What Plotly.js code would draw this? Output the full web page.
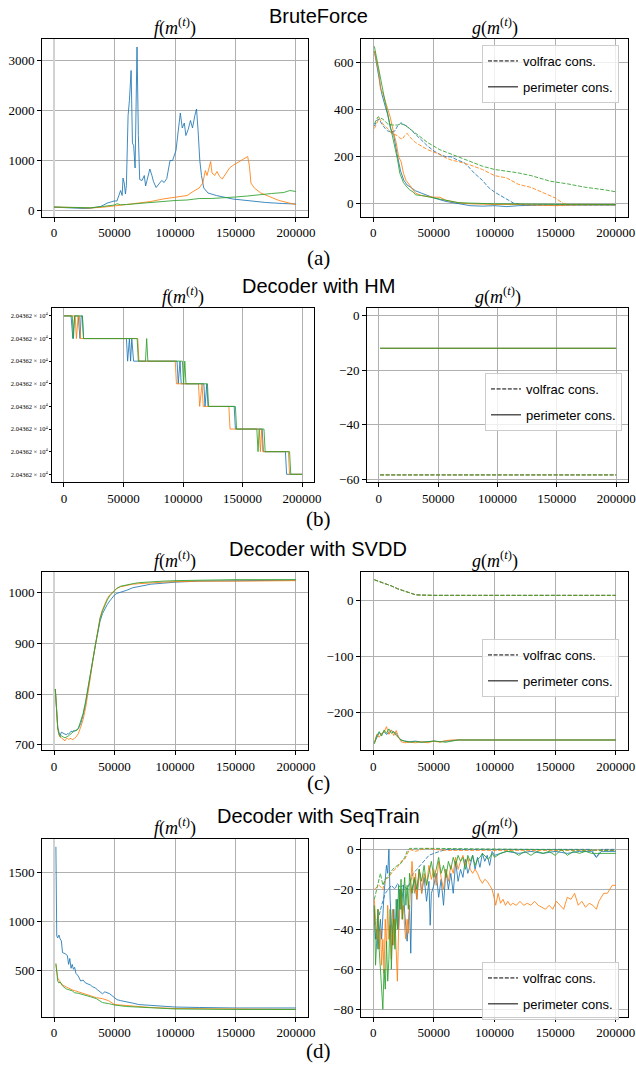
<!DOCTYPE html>
<html><head><meta charset="utf-8">
<script src="https://cdn.plot.ly/plotly-3.0.1.min.js"></script>
<style>html,body{margin:0;padding:0;background:#fff}#plot{width:636px;height:1069px}</style>
</head><body><div id="plot"></div>
<script>
// ---------- DATA ----------
const sectionTitles = ["BruteForce", "Decoder with HM", "Decoder with SVDD", "Decoder with SeqTrain"];
const captions = ["(a)", "(b)", "(c)", "(d)"];
const legendNames = ["volfrac cons.", "perimeter cons."];
const xTicks = [0, 50000, 100000, 150000, 200000];

// (a) BruteForce f
const aF_blue_x = [0,5000,10000,15000,20000,25000,30000,35000,38500,41000,44000,47000,49500,52000,53500,55000,56300,57000,58000,59000,59800,61200,62300,63700,64800,65800,67000,68000,68600,69700,70800,72700,74600,75700,77300,79200,80900,82200,84400,86300,89000,91000,93200,95900,98000,100800,102700,104400,106000,107700,109000,110900,112800,114500,116400,117800,119100,120500,121900,123800,127300,134200,147800,161500,175100,188800,200000];
const aF_blue = [67,60,55,48,42,40,45,60,80,110,150,170,190,190,300,400,300,650,550,330,500,1900,2200,2800,1350,1300,850,2000,3270,1500,620,600,700,490,650,830,700,580,460,520,600,560,640,1000,1000,1200,1600,1950,1650,1750,1500,1620,1800,1650,1900,2030,1600,1000,700,450,350,300,230,190,160,140,130];
const aF_orange_x = [0,10000,20000,30000,40000,50000,60000,70000,80000,90000,100000,105000,110000,115000,120000,123000,125100,126500,128100,129500,130600,132800,134700,136900,139100,141000,143200,145100,147800,151100,154600,158200,160100,161500,162800,165600,171000,177900,186100,194300,200000];
const aF_orange = [70,60,50,50,65,100,120,150,180,230,260,280,300,380,450,550,800,700,850,980,750,700,780,680,630,700,800,850,900,950,1000,1060,1080,900,550,450,350,280,200,150,120];
const aF_green_x = [0,10000,20000,30000,40000,50000,52000,55000,60000,70000,80000,85000,90000,100000,110000,115000,120000,130000,140000,150000,160000,170000,180000,190000,195000,200000];
const aF_green = [70,60,50,55,80,110,135,115,120,140,160,170,190,200,210,230,240,240,250,270,290,320,340,360,400,380];

// (a) BruteForce g
const aGv_blue_x = [1000,3000,5000,7000,10000,12000,15000,18000,20000,23000,26000,28000,30000,35000,40000,45000,50000,55000,60000,64000,70000,75000,80000,83000,90000,95000,100000,105000,110000,116000,125000,150000,175000,200000];
const aGv_blue = [330,355,360,340,320,310,305,310,330,345,335,330,320,295,270,245,225,210,200,200,185,175,150,132,100,70,50,35,20,2,-5,-5,-5,-5];
const aGp_blue_x = [1000,4000,7000,10200,12000,14300,17000,19800,22600,25300,28000,31000,35000,40000,45000,50000,60000,70000,80000,90000,100000,110000,120000,140000,160000,180000,200000];
const aGp_blue = [650,560,470,410,380,320,290,210,140,100,80,70,55,45,35,25,10,0,-8,-10,-8,-12,-8,-5,-5,-3,-5];
const aGv_orange_x = [1000,3000,5000,8000,10000,13000,15000,18000,20000,22000,24000,26000,28000,30000,35000,40000,45000,50000,55000,60000,65000,70000,80000,90000,100000,110000,120000,130000,140000,150000,157000,165000,200000];
const aGv_orange = [320,340,365,340,330,315,300,295,290,280,275,290,300,285,260,245,230,220,210,195,185,180,165,146,120,110,82,70,47,25,0,-5,-5];
const aGp_orange_x = [1000,3000,5000,6000,8000,11000,14000,17000,19000,21000,23000,25000,27000,30000,35000,40000,45000,50000,55000,60000,70000,80000,100000,120000,150000,170000,200000];
const aGp_orange = [650,600,550,490,470,420,370,300,260,200,180,130,100,80,45,35,30,28,28,15,5,0,-3,-3,-8,-3,-3];
const aGv_green_x = [1000,4000,8000,12000,16000,20000,23000,26000,30000,35000,40000,45000,50000,55000,60000,70000,78000,90000,100000,110000,119000,130000,146000,160000,174000,190000,200000];
const aGv_green = [340,370,360,340,335,335,340,335,320,300,280,260,245,230,220,200,182,160,146,140,132,120,96,85,71,60,51];
const aGp_green_x = [1000,5000,10000,15000,18000,20000,22000,25000,28000,30000,33000,35000,40000,50000,60000,70000,80000,100000,150000,200000];
const aGp_green = [670,560,430,310,240,190,130,90,70,60,50,38,35,25,12,5,3,0,-2,-3];

// (b) Decoder with HM f (step levels; all labelled 2.04362 x 10^4)
const bLevels = [0,1,2,3,4,5,6,7];
const bLevelText = bLevels.map(() => "2.04362 × 10<sup>4</sup>");
const bF_blue_x = [0,6000,7500,9000,12000,13500,14500,15500,16500,52500,53500,55000,56000,57000,58500,95000,96000,97500,98500,117500,118500,120000,121000,143000,144000,166500,167500,186000,187000,200000];
const bF_blue = [7,7,6,7,7,6,7,7,6,6,5,6,5,6,5,5,4,5,4,4,3,4,3,3,2,2,1,1,0,0];
const bF_orange_x = [0,9500,10500,12000,13000,14000,62000,63000,93500,94500,113000,114000,116000,117000,138500,139500,164000,165000,166000,167000,188500,189500,200000];
const bF_orange = [7,7,6,7,7,6,6,5,5,4,4,3,4,3,3,2,2,1,2,1,1,0,0];
const bF_green_x = [0,7000,8000,9000,15500,16500,61500,62500,68500,69500,70500,99500,100500,101500,102500,120500,121500,144000,145000,162000,163000,164000,168000,169000,189500,190500,200000];
const bF_green = [7,7,6,7,7,6,6,5,5,6,5,5,4,5,4,4,3,3,2,2,1,2,2,1,1,0,0];

// (b) Decoder with HM g
const bG_x = [1000,50000,100000,150000,200000];
const bGv = [-58.5,-58.5,-58.5,-58.5,-58.5];
const bGp = [-12,-12,-12,-12,-12];

// (c) Decoder with SVDD f
const cF_x = [1000,2000,3000,4000,5000,6000,7000,8000,9000,10000,11000,12000,13000,14000,15000,16000,17000,18000,19000,20000,22000,24000,26000,28000,30000,32000,34000,36000,38000,40000,42000,44000,46000,48000,50000,52000,55000,60000,65000,70000,80000,90000,100000,120000,150000,200000];
const cF_blue = [810,760,735,725,718,725,724,722,721,720,722,721,724,727,726,728,727,729,730,732,742,758,780,806,836,866,895,922,943,958,968,976,983,990,995,998,1000,1004,1009,1011,1016,1018,1020,1022,1023,1024];
const cF_orange = [810,755,732,720,715,714,712,710,708,712,713,711,712,713,710,711,713,715,718,722,735,750,772,800,832,865,895,925,950,966,978,988,995,1000,1004,1008,1011,1014,1016,1017,1019,1020,1021,1022,1022,1023];
const cF_green = [810,757,733,722,716,718,716,715,714,715,716,718,720,722,725,726,728,728,729,732,745,762,785,812,840,868,895,925,948,963,975,985,993,998,1003,1008,1012,1015,1017,1019,1021,1022,1023,1024,1025,1025];

// (c) Decoder with SVDD g
const cGv_x = [1000,5000,10000,15000,20000,25000,30000,35000,40000,50000,100000,150000,200000];
const cGv = [38,35,31,27,22,18,14,11,10.5,10,10,10,10];
const cGp_x = [1000,3000,5000,7000,9000,11000,13000,15000,17000,19000,21000,23000,26000,30000,35000,40000,45000,50000,55000,60000,65000,70000,100000,150000,200000];
const cGp_blue = [-255,-245,-237,-240,-235,-240,-237,-233,-236,-238,-245,-250,-252,-253,-252,-254,-253,-252,-253,-252,-251,-250,-250,-250,-250];
const cGp_orange = [-255,-240,-245,-238,-236,-226,-240,-232,-242,-233,-245,-253,-255,-254,-255,-253,-255,-252,-254,-251,-250,-250,-250,-250,-250];
const cGp_green = [-257,-242,-235,-243,-232,-238,-230,-238,-235,-242,-246,-250,-252,-254,-253,-254,-253,-252,-253,-254,-252,-250,-250,-250,-250];

// (d) Decoder with SeqTrain f
const dF_blue_x = [1500,2200,3000,4000,5000,6000,7000,9000,11000,12000,13000,14000,15000,16000,17000,18000,20000,22000,24000,26000,28000,30000,32000,34000,36000,38000,40000,42000,44000,46000,48000,50000,52000,55000,60000,65000,70000,80000,90000,100000,120000,150000,200000];
const dF_blue = [1760,850,830,860,820,800,680,670,650,560,620,520,560,510,530,470,440,390,400,370,360,350,330,320,300,280,260,280,270,260,240,220,200,190,180,165,150,140,135,125,120,115,115];
const dF_orange_x = [1500,2500,3000,5000,7000,10000,15000,20000,25000,30000,35000,40000,45000,50000,60000,80000,100000,150000,200000];
const dF_orange = [560,440,420,380,350,330,300,280,260,240,220,210,190,150,140,120,110,105,100];
const dF_green_x = [1500,2500,3000,4000,5000,7000,10000,15000,17000,20000,25000,30000,35000,40000,45000,50000,60000,80000,100000,150000,200000];
const dF_green = [570,400,390,370,380,340,310,290,270,265,250,230,210,170,160,145,130,115,105,100,100];

// (d) Decoder with SeqTrain g
const dGv_blue_x = [1000,3000,5000,7000,10000,15000,18000,20000,22000,25000,28000,30000,33000,36000,40000,43000,46000,50000,55000,60000,100000,180000,184000,188000,200000];
const dGv_blue = [-38,-35,-33,-28,-22,-18,-20,-17,-19,-18,-20,-17,-12,-10,-7,-5,-3,-2,-1,0,0,0,-4,0,0];
const dGv_orange_x = [1000,3000,5000,8000,10000,13000,16000,20000,23000,26000,28000,30000,35000,40000,45000,50000,60000,200000];
const dGv_orange = [-20,-19,-18,-20,-15,-14,-11,-9,-6,-5,-2,0,-1,0,0.5,0,-0.5,-0.5];
const dGv_green_x = [1000,3000,5000,6000,8000,10000,13000,16000,20000,23000,26000,28000,30000,50000,200000];
const dGv_green = [-25,-20,-15,-12,-18,-15,-13,-10,-8,-7,-4,-1,0.5,0.5,-0.5];
const dGp_blue_x = [1000,2000,3000,4000,5000,6000,7000,8000,9000,10000,11000,12000,13000,14000,15000,16000,17000,18000,19000,20000,21000,22000,23000,24000,25000,26000,27000,28000,29000,30000,31000,32000,34000,36000,38000,40000,42000,44000,46000,47000,48000,50000,52000,54000,56000,58000,60000,62000,64000,66000,68000,70000,72000,74000,76000,78000,80000,82000,84000,86000,88000,90000,92000,94000,96000,98000,100000,105000,110000,120000,130000,140000,150000,160000,170000,180000,184000,188000,200000];
const dGp_blue = [-30,-45,-40,-50,-42,-35,-45,-30,-22,-15,-8,-12,0,-25,-38,-48,-30,-42,-35,-25,-40,-20,-30,-22,-18,-32,-40,-46,-38,-28,-52,-20,-15,-25,-10,-22,-14,-26,-16,-38,-22,-18,-12,-24,-15,-28,-10,-20,-12,-22,-6,-16,-10,-14,-5,-12,-8,-3,-10,-4,-9,-2,-6,-3,-8,-1,-3,-2,-1,-2,-1,-2,-1,-2,-1,-1,-4,-1,-1];
const dGp_orange_x = [1000,2000,3000,4000,5000,6000,7000,8000,9000,10000,11000,12000,13000,14000,15000,16000,17000,18000,19000,20000,21000,22000,23000,24000,25000,26000,27000,28000,29000,30000,31000,32000,33000,34000,35000,36000,37000,38000,40000,42000,44000,46000,48000,50000,52000,54000,56000,58000,60000,62000,64000,66000,68000,70000,72000,74000,76000,78000,80000,82000,84000,86000,88000,90000,92000,94000,96000,98000,100000,101000,103000,105000,107000,109000,111000,113000,115000,118000,121000,124000,127000,130000,133000,136000,139000,142000,145000,148000,151000,154000,157000,160000,163000,166000,169000,172000,175000,178000,181000,184000,186000,188000,190000,193000,195000,197000,200000];
const dGp_orange = [-25,-35,-45,-30,-50,-40,-58,-45,-62,-35,-50,-28,-45,-38,-55,-30,-48,-35,-55,-66,-40,-30,-20,-35,-28,-40,-45,-35,-42,-30,-20,-6,-15,-22,-12,-25,-18,-10,-22,-12,-18,-8,-15,-10,-18,-6,-14,-20,-10,-16,-8,-12,-4,-10,-6,-3,-8,-4,-10,-12,-10,-12,-15,-17,-15,-16,-18,-20,-25,-28,-22,-27,-25,-28,-26,-28,-27,-28,-26,-28,-27,-28,-26,-28,-29,-30,-28,-30,-26,-28,-30,-24,-25,-22,-28,-26,-29,-27,-28,-30,-26,-24,-22,-22,-20,-18,-18];
const dGp_green_x = [1000,2000,3000,4000,5000,6000,7000,8000,9000,10000,11000,12000,13000,14000,15000,16000,17000,18000,19000,20000,21000,22000,23000,24000,25000,26000,27000,28000,29000,30000,32000,34000,36000,38000,40000,42000,44000,46000,48000,50000,52000,54000,56000,58000,60000,62000,64000,66000,68000,70000,72000,74000,76000,78000,80000,82000,84000,86000,88000,90000,95000,98000,100000,105000,110000,115000,120000,125000,130000,135000,140000,145000,150000,155000,160000,165000,170000,175000,180000,185000,190000,200000];
const dGp_green = [-28,-58,-45,-30,-50,-62,-68,-80,-60,-70,-46,-66,-55,-30,-60,-40,-35,-50,-25,-40,-18,-30,-15,-35,-22,-14,-28,-18,-30,-12,-22,-14,-20,-10,-16,-8,-18,-12,-6,-14,-10,-4,-12,-8,-14,-6,-10,-4,-8,-3,-6,-4,-10,-3,-6,-3,-8,-5,-4,-2,-5,-2,-4,-2,-1,-1,-3,-1,-3,-1,-2,-1,-3,0,-3,-1,-2,-1,-2,-2,-2,-2];

// ---------- PLOT ----------
const W = 636, H = 1069;
const COL = {blue:'#1f77b4', orange:'#ff7f0e', green:'#2ca02c'};
const DASH = '4px,1.6px';
function ax(n){ return n === 1 ? '' : String(n); }
function ln(x, y, color, n, dashed){
  return {x:x, y:y, type:'scatter', mode:'lines', xaxis:'x'+ax(n), yaxis:'y'+ax(n),
    line:{color:COL[color], width:1, dash: dashed ? DASH : 'solid'}, opacity:0.85,
    showlegend:false, hoverinfo:'skip'};
}
function legendTraces(n, lg){
  return [
    {x:[null], y:[null], type:'scatter', mode:'lines', xaxis:'x'+ax(n), yaxis:'y'+ax(n), name:legendNames[0], legend:lg, legendgroup:lg+'v', line:{color:'black', width:1, dash:DASH}},
    {x:[null], y:[null], type:'scatter', mode:'lines', xaxis:'x'+ax(n), yaxis:'y'+ax(n), name:legendNames[1], legend:lg, legendgroup:lg+'p', line:{color:'black', width:1}}
  ];
}

const traces = [
  ln(aF_blue_x, aF_blue, 'blue', 1), ln(aF_orange_x, aF_orange, 'orange', 1), ln(aF_green_x, aF_green, 'green', 1),
  ln(aGv_blue_x, aGv_blue, 'blue', 2, true), ln(aGp_blue_x, aGp_blue, 'blue', 2),
  ln(aGv_orange_x, aGv_orange, 'orange', 2, true), ln(aGp_orange_x, aGp_orange, 'orange', 2),
  ln(aGv_green_x, aGv_green, 'green', 2, true), ln(aGp_green_x, aGp_green, 'green', 2),
  ...legendTraces(2, 'legend'),
  ln(bF_blue_x, bF_blue, 'blue', 3), ln(bF_orange_x, bF_orange, 'orange', 3), ln(bF_green_x, bF_green, 'green', 3),
  ln(bG_x, bGv, 'blue', 4, true), ln(bG_x, bGp, 'blue', 4),
  ln(bG_x, bGv, 'orange', 4, true), ln(bG_x, bGp, 'orange', 4),
  ln(bG_x, bGv, 'green', 4, true), ln(bG_x, bGp, 'green', 4),
  ...legendTraces(4, 'legend2'),
  ln(cF_x, cF_blue, 'blue', 5), ln(cF_x, cF_orange, 'orange', 5), ln(cF_x, cF_green, 'green', 5),
  ln(cGv_x, cGv, 'blue', 6, true), ln(cGp_x, cGp_blue, 'blue', 6),
  ln(cGv_x, cGv, 'orange', 6, true), ln(cGp_x, cGp_orange, 'orange', 6),
  ln(cGv_x, cGv, 'green', 6, true), ln(cGp_x, cGp_green, 'green', 6),
  ...legendTraces(6, 'legend3'),
  ln(dF_blue_x, dF_blue, 'blue', 7), ln(dF_orange_x, dF_orange, 'orange', 7), ln(dF_green_x, dF_green, 'green', 7),
  ln(dGv_blue_x, dGv_blue, 'blue', 8, true), ln(dGp_blue_x, dGp_blue, 'blue', 8),
  ln(dGv_orange_x, dGv_orange, 'orange', 8, true), ln(dGp_orange_x, dGp_orange, 'orange', 8),
  ln(dGv_green_x, dGv_green, 'green', 8, true), ln(dGp_green_x, dGp_green, 'green', 8),
  ...legendTraces(8, 'legend4')
];

function dx(l, r){ return [l/W, r/W]; }
function dy(t, b){ return [1 - b/H, 1 - t/H]; }
const tickFont = {family:'Liberation Serif, serif', size:13, color:'black'};
function xaxis(dom, n, zero){
  return {domain:dom, anchor:'y'+ax(n), range:[-10000, 210000], tickvals:xTicks, tickformat:'d',
    showgrid:true, gridcolor:'#b0b0b0', gridwidth:1, showline:true, mirror:true, linecolor:'black', linewidth:1,
    ticks:'outside', ticklen:4, tickcolor:'black', zeroline:!!zero, zerolinecolor:'#d2d2d2', zerolinewidth:2.5,
    tickfont:tickFont, fixedrange:true};
}
function yaxis(dom, n, range, dtick, extra){
  return Object.assign({domain:dom, anchor:'x'+ax(n), range:range, dtick:dtick, tick0:0,
    showgrid:true, gridcolor:'#b0b0b0', gridwidth:1, showline:true, mirror:true, linecolor:'black', linewidth:1,
    ticks:'outside', ticklen:4, tickcolor:'black', zeroline:false, tickfont:tickFont, fixedrange:true}, extra || {});
}

const XL = dx(42, 308), XR = dx(361, 628), XBL = dx(52, 314), XBR = dx(367, 628);
const YA = dy(38.5, 216.5), YB = dy(308, 482), YC = dy(572, 750), YD = dy(839, 1016.5);

const fT = '<i>f</i>(<i>m</i><sup>(<i>t</i>)</sup>)';
const gT = '<i>g</i>(<i>m</i><sup>(<i>t</i>)</sup>)';
const annotations = [];
const subs = [[XL,YA,fT],[XR,YA,gT],[XBL,YB,fT],[XBR,YB,gT],[XL,YC,fT],[XR,YC,gT],[XL,YD,fT],[XR,YD,gT]];
subs.forEach(s => annotations.push({xref:'paper', yref:'paper', x:(s[0][0]+s[0][1])/2, y:s[1][1], xanchor:'center', yanchor:'bottom',
  text:s[2], showarrow:false, font:{family:'Liberation Serif, serif', size:18, color:'black'}, yshift:-2}));
const titleY = [16, 286, 549, 816];
sectionTitles.forEach((t, i) => annotations.push({xref:'paper', yref:'paper', x:0.5, y:1 - titleY[i]/H, xanchor:'center', yanchor:'middle',
  text:t, showarrow:false, font:{family:'Liberation Sans, sans-serif', size:20, color:'black'}}));
const capY = [258, 519, 783, 1051];
captions.forEach((t, i) => annotations.push({xref:'paper', yref:'paper', x:0.5, y:1 - capY[i]/H, xanchor:'center', yanchor:'middle',
  text:t, showarrow:false, font:{family:'Liberation Serif, serif', size:21, color:'black'}}));

function legendCfg(xpx, ypx){
  return {x:xpx/W, y:1 - ypx/H, xanchor:'left', yanchor:'top', bgcolor:'rgba(255,255,255,0.8)', bordercolor:'#cccccc', borderwidth:1,
    font:{family:'Liberation Sans, sans-serif', size:13, color:'black'}, tracegroupgap:6, itemclick:false, itemdoubleclick:false};
}

const layout = {
  width:W, height:H, margin:{l:0, r:0, t:0, b:0}, paper_bgcolor:'white', plot_bgcolor:'white',
  font:{family:'Liberation Serif, serif', size:13, color:'black'},
  xaxis: xaxis(XL, 1, true), yaxis: yaxis(YA, 1, [-120, 3440], 1000),
  xaxis2: xaxis(XR, 2), yaxis2: yaxis(YA, 2, [-54, 703], 200),
  xaxis3: xaxis(XBL, 3), yaxis3: yaxis(YB, 3, [-0.34, 7.35], 1, {showgrid:false, tickmode:'array', tickvals:bLevels, ticktext:bLevelText, ticklen:2, tickfont:{family:'Liberation Serif, serif', size:6.5, color:'black'}}),
  xaxis4: xaxis(XBR, 4), yaxis4: yaxis(YB, 4, [-61.1, 2.8], 20),
  xaxis5: xaxis(XL, 5, true), yaxis5: yaxis(YC, 5, [690, 1040], 100),
  xaxis6: xaxis(XR, 6), yaxis6: yaxis(YC, 6, [-268, 52], 100),
  xaxis7: xaxis(XL, 7, true), yaxis7: yaxis(YD, 7, [28, 1840], 500),
  xaxis8: xaxis(XR, 8), yaxis8: yaxis(YD, 8, [-83.7, 5.2], 20),
  legend: legendCfg(482, 45), legend2: legendCfg(485, 373), legend3: legendCfg(482, 639), legend4: legendCfg(482, 962),
  annotations: annotations, showlegend:true
};

Plotly.newPlot('plot', traces, layout, {staticPlot:true, displayModeBar:false});
</script></body></html>
